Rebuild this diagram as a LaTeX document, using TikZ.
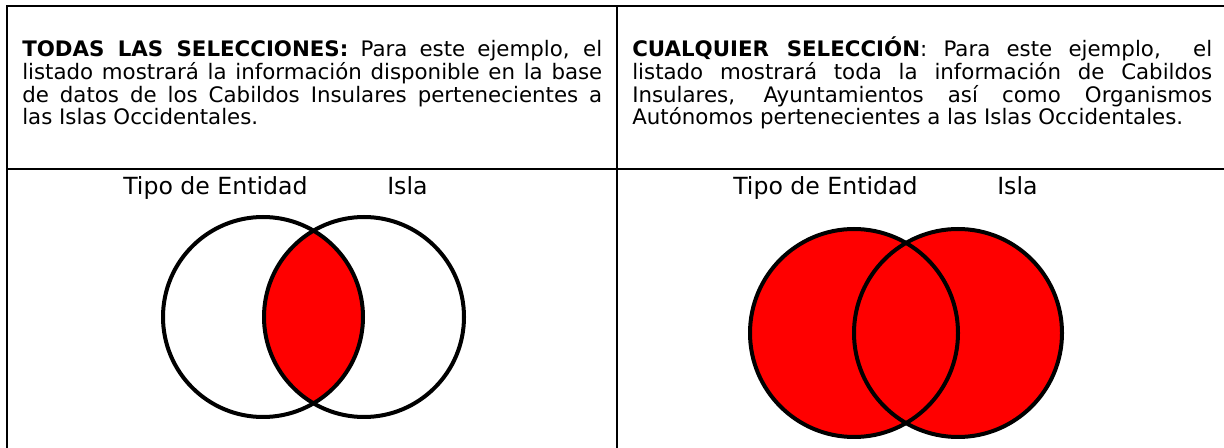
\documentclass[tikz,border=0pt]{standalone}
\usepackage{fontspec}
\setmainfont{DejaVu Sans}
\begin{document}
\begin{tikzpicture}[x=0.75pt,y=-0.75pt,
  rule/.style = {line width=1.5pt},
  set/.style = {draw, line width=3pt},
  cell/.style = {anchor=base west, inner sep=0pt, text width=435pt, align=justify,
    font=\fontsize{16pt}{17pt}\selectfont},
  setname/.style = {anchor=base west, inner sep=0pt, font=\fontsize{17.7pt}{20pt}\selectfont}]
\useasboundingbox (0,0) rectangle (1224,448);
% table
\draw[rule] (7,448) -- (7,6) -- (1224,6);
\draw[rule] (7,169) -- (1224,169);
\draw[rule] (617,6) -- (617,448);
% texts
\node[cell] (todas) at (22,57) {\textbf{TODAS LAS SELECCIONES:} Para este ejemplo, el\linebreak
listado mostrará la información disponible en la base\linebreak
de datos de los Cabildos Insulares pertenecientes a\linebreak
las Islas Occidentales.};
\node[cell] (cualquier) at (632,57) {\textbf{CUALQUIER SELECCIÓN}: Para este ejemplo,\ \ el\linebreak
listado mostrará toda la información de Cabildos\linebreak
Insulares, Ayuntamientos así como Organismos\linebreak
Autónomos pertenecientes a las Islas Occidentales.};
\node[setname] (tipo1) at (123,195) {Tipo de Entidad};
\node[setname] (isla1) at (387,195) {Isla};
\node[setname] (tipo2) at (733,195) {Tipo de Entidad};
\node[setname] (isla2) at (997,195) {Isla};
% venn, intersection
\coordinate (a1) at (263,317);
\coordinate (b1) at (364,317);
\begin{scope}
\clip (a1) circle (100);
\fill[red] (b1) circle (100);
\end{scope}
\path[set] (a1) circle (100);
\path[set] (b1) circle (100);
% venn, union
\coordinate (a2) at (854,333);
\coordinate (b2) at (958,333);
\fill[red] (a2) circle (104);
\fill[red] (b2) circle (104);
\path[set] (a2) circle (104);
\path[set] (b2) circle (104);
\end{tikzpicture}
\end{document}
